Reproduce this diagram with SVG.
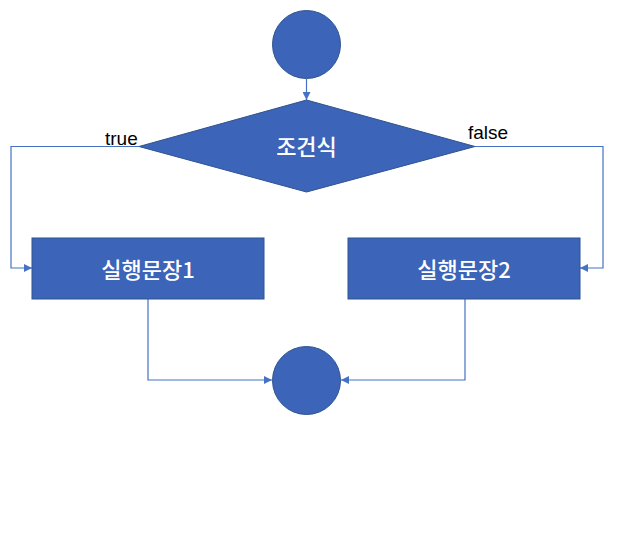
<svg xmlns="http://www.w3.org/2000/svg" width="617" height="559" viewBox="0 0 617 559">
<defs>
<style>
.shape{fill:#3c64b8;stroke:#2f528f;stroke-width:1}
.conn{fill:none;stroke:#4472c4;stroke-width:1.2}
.lbl{font-family:"Noto Sans CJK KR","Noto Sans",sans-serif;font-size:22px;font-weight:500;fill:#ffffff;text-anchor:middle;dominant-baseline:central}
.edge{font-family:"Liberation Sans","Noto Sans",sans-serif;font-size:19px;fill:#000000}
</style>
<marker id="arr" viewBox="0 0 10 10" refX="10" refY="5" markerWidth="8" markerHeight="8" markerUnits="userSpaceOnUse" orient="auto">
<path d="M0,0 L10,5 L0,10 z" fill="#4472c4"/>
</marker>
</defs>
<rect width="617" height="559" fill="#ffffff"/>
<g id="connectors">
<path class="conn" d="M306.5,79 L306.5,100" marker-end="url(#arr)"/>
<path class="conn" d="M139,146.5 L11,146.5 L11,268 L32,268" marker-end="url(#arr)"/>
<path class="conn" d="M475,146.5 L603,146.5 L603,268 L580,268" marker-end="url(#arr)"/>
<path class="conn" d="M148,299 L148,380 L272,380" marker-end="url(#arr)"/>
<path class="conn" d="M465,299 L465,380 L341,380" marker-end="url(#arr)"/>
<text class="edge" x="105" y="145">true</text>
<text class="edge" x="468" y="139">false</text>
</g>
<g id="start">
<circle class="shape" cx="306.5" cy="44.5" r="34"/>
</g>
<g id="condition">
<polygon class="shape" points="306.5,100 475,146.5 306.5,192 139,146.5"/>
<text class="lbl" x="306.5" y="145">조건식</text>
</g>
<g id="stmt1">
<rect class="shape" x="32" y="238" width="232" height="61"/>
<text class="lbl" x="148" y="268">실행문장1</text>
</g>
<g id="stmt2">
<rect class="shape" x="348" y="238" width="232" height="61"/>
<text class="lbl" x="464" y="268">실행문장2</text>
</g>
<g id="end">
<circle class="shape" cx="306.5" cy="380.5" r="34"/>
</g>
</svg>
